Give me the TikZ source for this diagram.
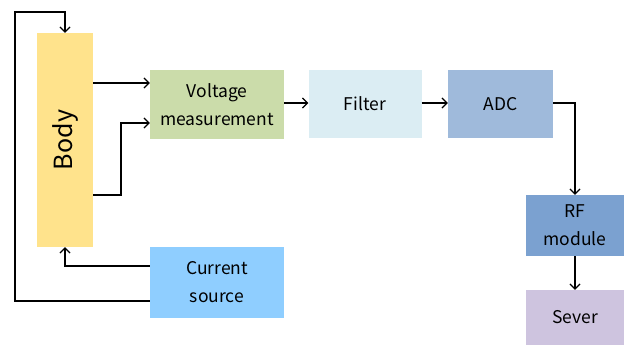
\documentclass[tikz,border=0pt]{standalone}
\usepackage{fontspec}
\setmainfont{Noto Sans CJK KR}
\usetikzlibrary{arrows.meta}
\definecolor{cbody}{HTML}{FFE38C}
\definecolor{cvm}{HTML}{CBDCAA}
\definecolor{cfil}{HTML}{DBEDF3}
\definecolor{cadc}{HTML}{9FBADB}
\definecolor{crf}{HTML}{7BA1D0}
\definecolor{csev}{HTML}{CEC4DF}
\definecolor{ccur}{HTML}{8FCEFF}
\tikzset{
  blk/.style={inner sep=0pt, align=center, font=\fontsize{17.5}{28}\selectfont},
  conn/.style={line width=1.3pt, -{Straight Barb[length=5pt,width=10pt,line width=1.2pt]}},
  plain/.style={line width=1.3pt}
}
\begin{document}
\begin{tikzpicture}[x=1pt,y=-1pt]
\useasboundingbox (0,0) rectangle (625,345);
\node[blk, fill=cbody, minimum width=56pt, minimum height=214pt] (body) at (65,140) {};
\node[rotate=90, font=\fontsize{25}{28}\selectfont] at (body.center) {Body};
\node[blk, fill=cvm, minimum width=134pt, minimum height=69pt] (vm) at (217,104.5) {Voltage\\measurement};
\node[blk, fill=cfil, minimum width=113pt, minimum height=68pt] (fil) at (365,104) {Filter};
\node[blk, fill=cadc, minimum width=105pt, minimum height=68pt] (adc) at (500.5,104) {ADC};
\node[blk, fill=crf, minimum width=98pt, minimum height=61pt] (rf) at (575,225.5) {RF\\module};
\node[blk, fill=csev, minimum width=98pt, minimum height=55pt] (sev) at (575,317.5) {Sever};
\node[blk, fill=ccur, minimum width=134pt, minimum height=71pt] (cur) at (217,282.5) {Current\\source};
\coordinate (tl) at (15,12);
\coordinate (bl) at (15,301);
% body to VM
\draw[conn] (body.east |- 0,83) -- (vm.west |- 0,83);
\draw[conn] (body.east |- 0,195) -- (121,195) -- (121,123) -- (vm.west |- 0,123);
\draw[conn] (vm.east |- 0,103) -- (fil.west |- 0,103);
\draw[conn] (fil.east |- 0,103) -- (adc.west |- 0,103);
\draw[conn] (adc.east |- 0,103) -- (575,103) -- (rf.north);
\draw[conn] (rf.south) -- (sev.north);
\draw[conn] (cur.west |- 0,266) -- (65,266) -- (body.south);
\draw[conn] (cur.west |- bl) -- (bl) -- (tl) -- (65,12) -- (body.north);
\end{tikzpicture}
\end{document}
